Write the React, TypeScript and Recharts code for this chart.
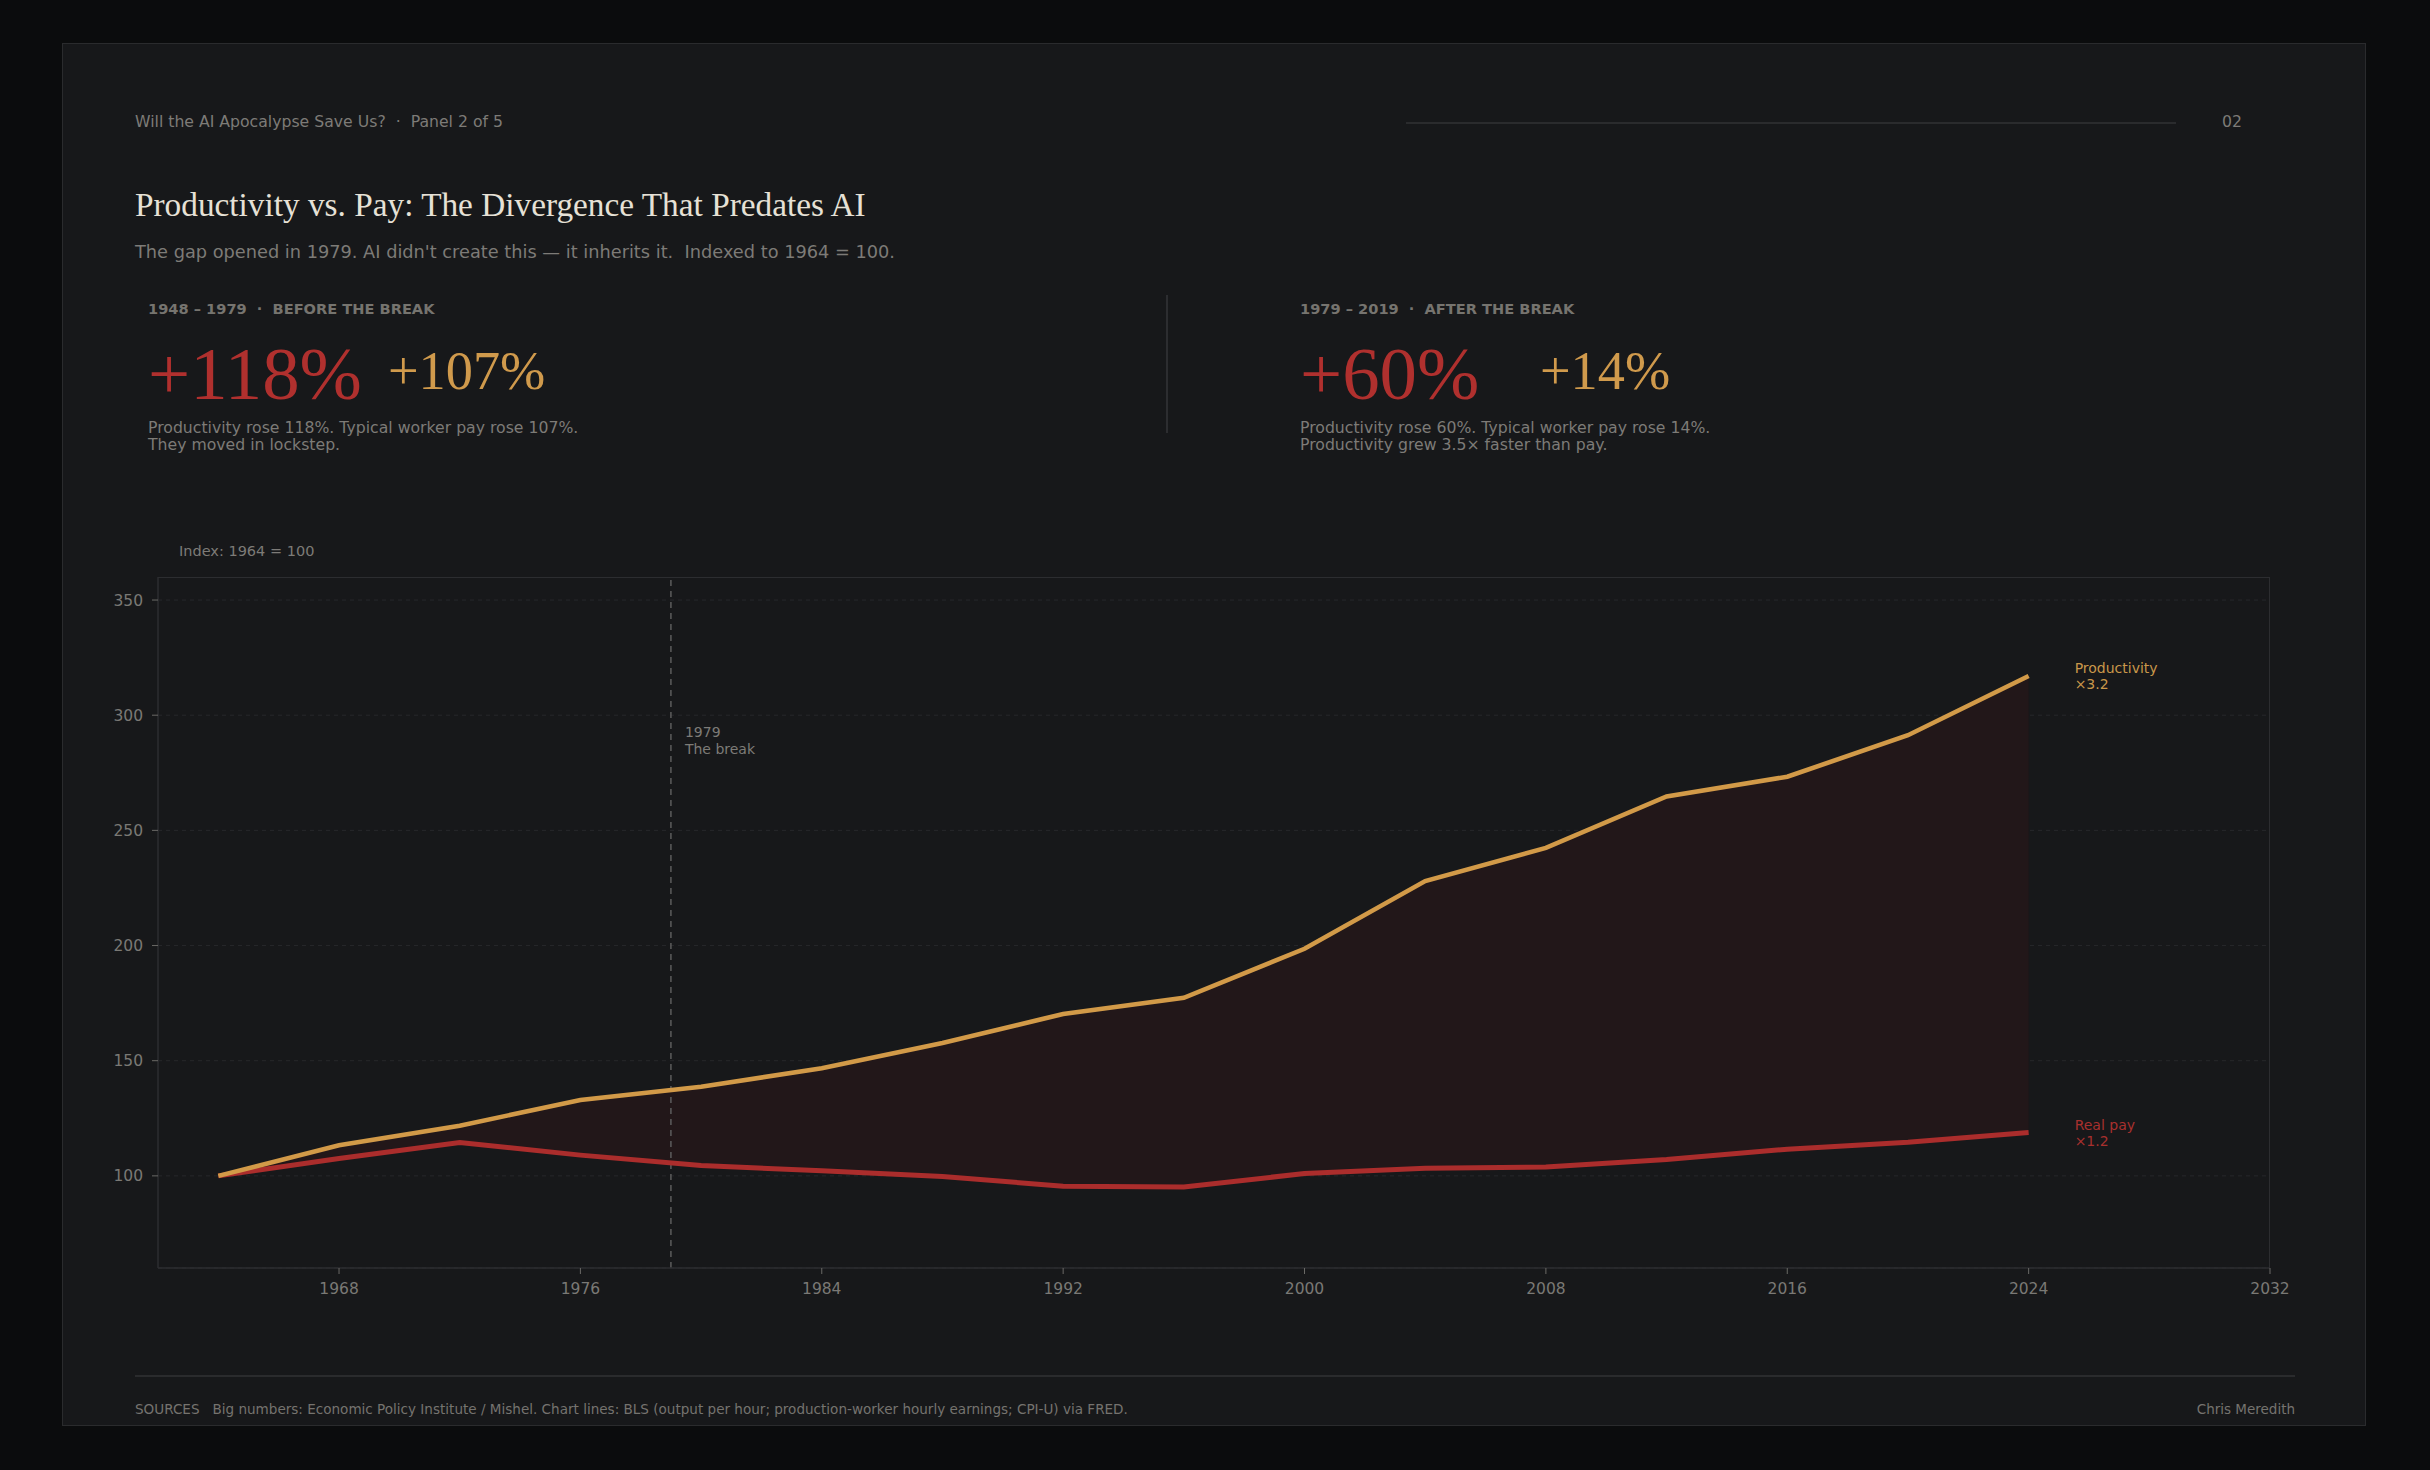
import React from "react"
import { ComposedChart, Area, Line, XAxis, YAxis, CartesianGrid, ReferenceLine } from "recharts"

// Index values, 1964 = 100, sampled every four years
const years = [1964, 1968, 1972, 1976, 1980, 1984, 1988, 1992, 1996, 2000, 2004, 2008, 2012, 2016, 2020, 2024]
const productivity = [100, 113.3, 121.8, 132.9, 138.7, 146.7, 157.7, 170.3, 177.3, 198.6, 228, 242.4, 264.7, 273.3, 291.3, 317]
const realPay = [100, 107.5, 114.5, 109, 104.5, 102.2, 99.7, 95.5, 95.2, 101, 103.3, 103.8, 107.1, 111.6, 114.6, 118.8]

const yTicks = [100, 150, 200, 250, 300, 350]
const xTicks = [1968, 1976, 1984, 1992, 2000, 2008, 2016, 2024, 2032]
const breakYear = 1979

// headline stats for the two eras
const statPeriods = ["1948 – 1979  ·  BEFORE THE BREAK", "1979 – 2019  ·  AFTER THE BREAK"]
const statProductivity = ["+118%", "+60%"]
const statPay = ["+107%", "+14%"]
const statNotes = [
  ["Productivity rose 118%. Typical worker pay rose 107%.", "They moved in lockstep."],
  ["Productivity rose 60%. Typical worker pay rose 14%.", "Productivity grew 3.5× faster than pay."],
]

const GOLD = "#d29a48"
const RED = "#ab2d2c"
const MUTED = "#7d7b77"
const SANS = "'DejaVu Sans', sans-serif"
const SERIF = "'Liberation Serif', serif"

const chartData = years.map((year, i) => ({
  year,
  productivity: productivity[i],
  pay: realPay[i],
  gap: [realPay[i], productivity[i]],
}))

const last = years.length - 1

function endLabel(name: string, ratio: number, color: string) {
  return (props: any) => {
    if (props.index !== last) return null
    const x = props.x + 46
    return (
      <text fill={color} fontSize={14} fontFamily={SANS}>
        <tspan x={x} y={props.y - 3}>{name}</tspan>
        <tspan x={x} y={props.y + 13}>×{ratio.toFixed(1)}</tspan>
      </text>
    )
  }
}

function BreakLabel(props: any) {
  const { viewBox } = props
  const x = viewBox.x + 14
  return (
    <text fill={MUTED} fontSize={14} fontFamily={SANS}>
      <tspan x={x} y={viewBox.y + 160}>{breakYear}</tspan>
      <tspan x={x} y={viewBox.y + 177}>The break</tspan>
    </text>
  )
}

const abs = (left: number, top: number, extra: React.CSSProperties = {}): React.CSSProperties => ({
  position: "absolute",
  left,
  top,
  whiteSpace: "pre",
  ...extra,
})

function StatBlock({ i, x }: { i: number; x: number }) {
  return (
    <>
      <div style={abs(x, 301, { fontSize: 14.6, lineHeight: "16px", fontWeight: 700, color: "#76746f" })}>{statPeriods[i]}</div>
      <div style={abs(x, 337, { fontFamily: SERIF, fontSize: 74.8, lineHeight: "74px", color: "#b0302e" })}>{statProductivity[i]}</div>
      <div style={abs(x + 240, 344, { fontFamily: SERIF, fontSize: 54.3, lineHeight: "54px", color: "#d09a4c" })}>{statPay[i]}</div>
      <div style={abs(x, 419, { fontSize: 15.7, lineHeight: "17.3px", color: MUTED })}>
        {statNotes[i][0]}
        {"\n"}
        {statNotes[i][1]}
      </div>
    </>
  )
}

export default function App() {
  return (
    <div style={{ position: "absolute", left: 0, top: 0, width: 2430, height: 1470, background: "#0b0c0d", fontFamily: SANS, overflow: "hidden" }}>
      <div style={{ position: "absolute", left: 62, top: 43, width: 2304, height: 1383, background: "#17181a", border: "1.5px solid #2a2b2d", boxSizing: "border-box" }} />

      {/* header */}
      <div style={abs(135, 113, { fontSize: 15.7, lineHeight: "18px", color: MUTED })}>Will the AI Apocalypse Save Us?  ·  Panel 2 of 5</div>
      <div style={abs(1406, 122, { width: 770, height: 1.5, background: "#2a2b2d" })} />
      <div style={{ position: "absolute", right: 188, top: 113, fontSize: 15.7, lineHeight: "18px", color: MUTED }}>02</div>

      <div style={abs(135, 188, { fontFamily: SERIF, fontSize: 33.3, lineHeight: "33px", color: "#e6e1d6" })}>
        Productivity vs. Pay: The Divergence That Predates AI
      </div>
      <div style={abs(135, 243, { fontSize: 17.75, lineHeight: "18px", color: MUTED })}>
        The gap opened in 1979. AI didn't create this — it inherits it.  Indexed to 1964 = 100.
      </div>

      <StatBlock i={0} x={148} />
      <div style={abs(1166, 295, { width: 1.5, height: 138, background: "#2c2d30" })} />
      <StatBlock i={1} x={1300} />

      <div style={abs(179, 543, { fontSize: 14.5, lineHeight: "16px", color: MUTED })}>Index: 1964 = 100</div>

      <div style={{ position: "absolute", left: 98, top: 577 }}>
        <ComposedChart width={2222} height={731} data={chartData} margin={{ top: 0, right: 50, bottom: 0, left: 0 }}>
          <CartesianGrid vertical={false} stroke="#27282b" strokeDasharray="4 4" />
          <XAxis
            dataKey="year"
            type="number"
            domain={[1962, 2032]}
            ticks={xTicks}
            height={40}
            axisLine={{ stroke: "#2c2d30", strokeWidth: 1.5 }}
            tickLine={{ stroke: "#6a6966" }}
            tickSize={6}
            tickMargin={9}
            tick={{ fill: "#7a7975", fontSize: 15.5, fontFamily: SANS }}
          />
          <YAxis
            type="number"
            domain={[60, 360]}
            ticks={yTicks}
            width={60}
            axisLine={{ stroke: "#2c2d30", strokeWidth: 1.5 }}
            tickLine={{ stroke: "#6a6966" }}
            tickSize={6}
            tickMargin={9}
            tick={{ fill: "#7a7975", fontSize: 15.5, fontFamily: SANS }}
          />
          <Area dataKey="gap" stroke="none" fill="#221719" fillOpacity={1} isAnimationActive={false} />
          <ReferenceLine x={breakYear} stroke="#5c5c5c" strokeWidth={1.5} strokeDasharray="6 5" label={<BreakLabel />} />
          <Line
            dataKey="pay"
            stroke={RED}
            strokeWidth={5}
            dot={false}
            activeDot={false}
            isAnimationActive={false}
            label={endLabel("Real pay", realPay[last] / realPay[0], "#a8302e")}
          />
          <Line
            dataKey="productivity"
            stroke={GOLD}
            strokeWidth={4.6}
            dot={false}
            activeDot={false}
            isAnimationActive={false}
            label={endLabel("Productivity", productivity[last] / productivity[0], "#c9974a")}
          />
        </ComposedChart>
      </div>
      {/* top and right edges of the plot frame */}
      <div style={{ position: "absolute", left: 158, top: 577, width: 2112, height: 691, borderTop: "1.5px solid #2c2d30", borderRight: "1.5px solid #2c2d30", boxSizing: "border-box", pointerEvents: "none" }} />

      {/* footer */}
      <div style={abs(135, 1375, { width: 2160, height: 1.5, background: "#2a2b2d" })} />
      <div style={abs(135, 1401, { fontSize: 13.55, lineHeight: "16px", color: "#75736f" })}>
        SOURCES   Big numbers: Economic Policy Institute / Mishel. Chart lines: BLS (output per hour; production-worker hourly earnings; CPI-U) via FRED.
      </div>
      <div style={{ position: "absolute", right: 135, top: 1401, fontSize: 13.5, lineHeight: "16px", color: "#75736f" }}>Chris Meredith</div>
    </div>
  )
}
